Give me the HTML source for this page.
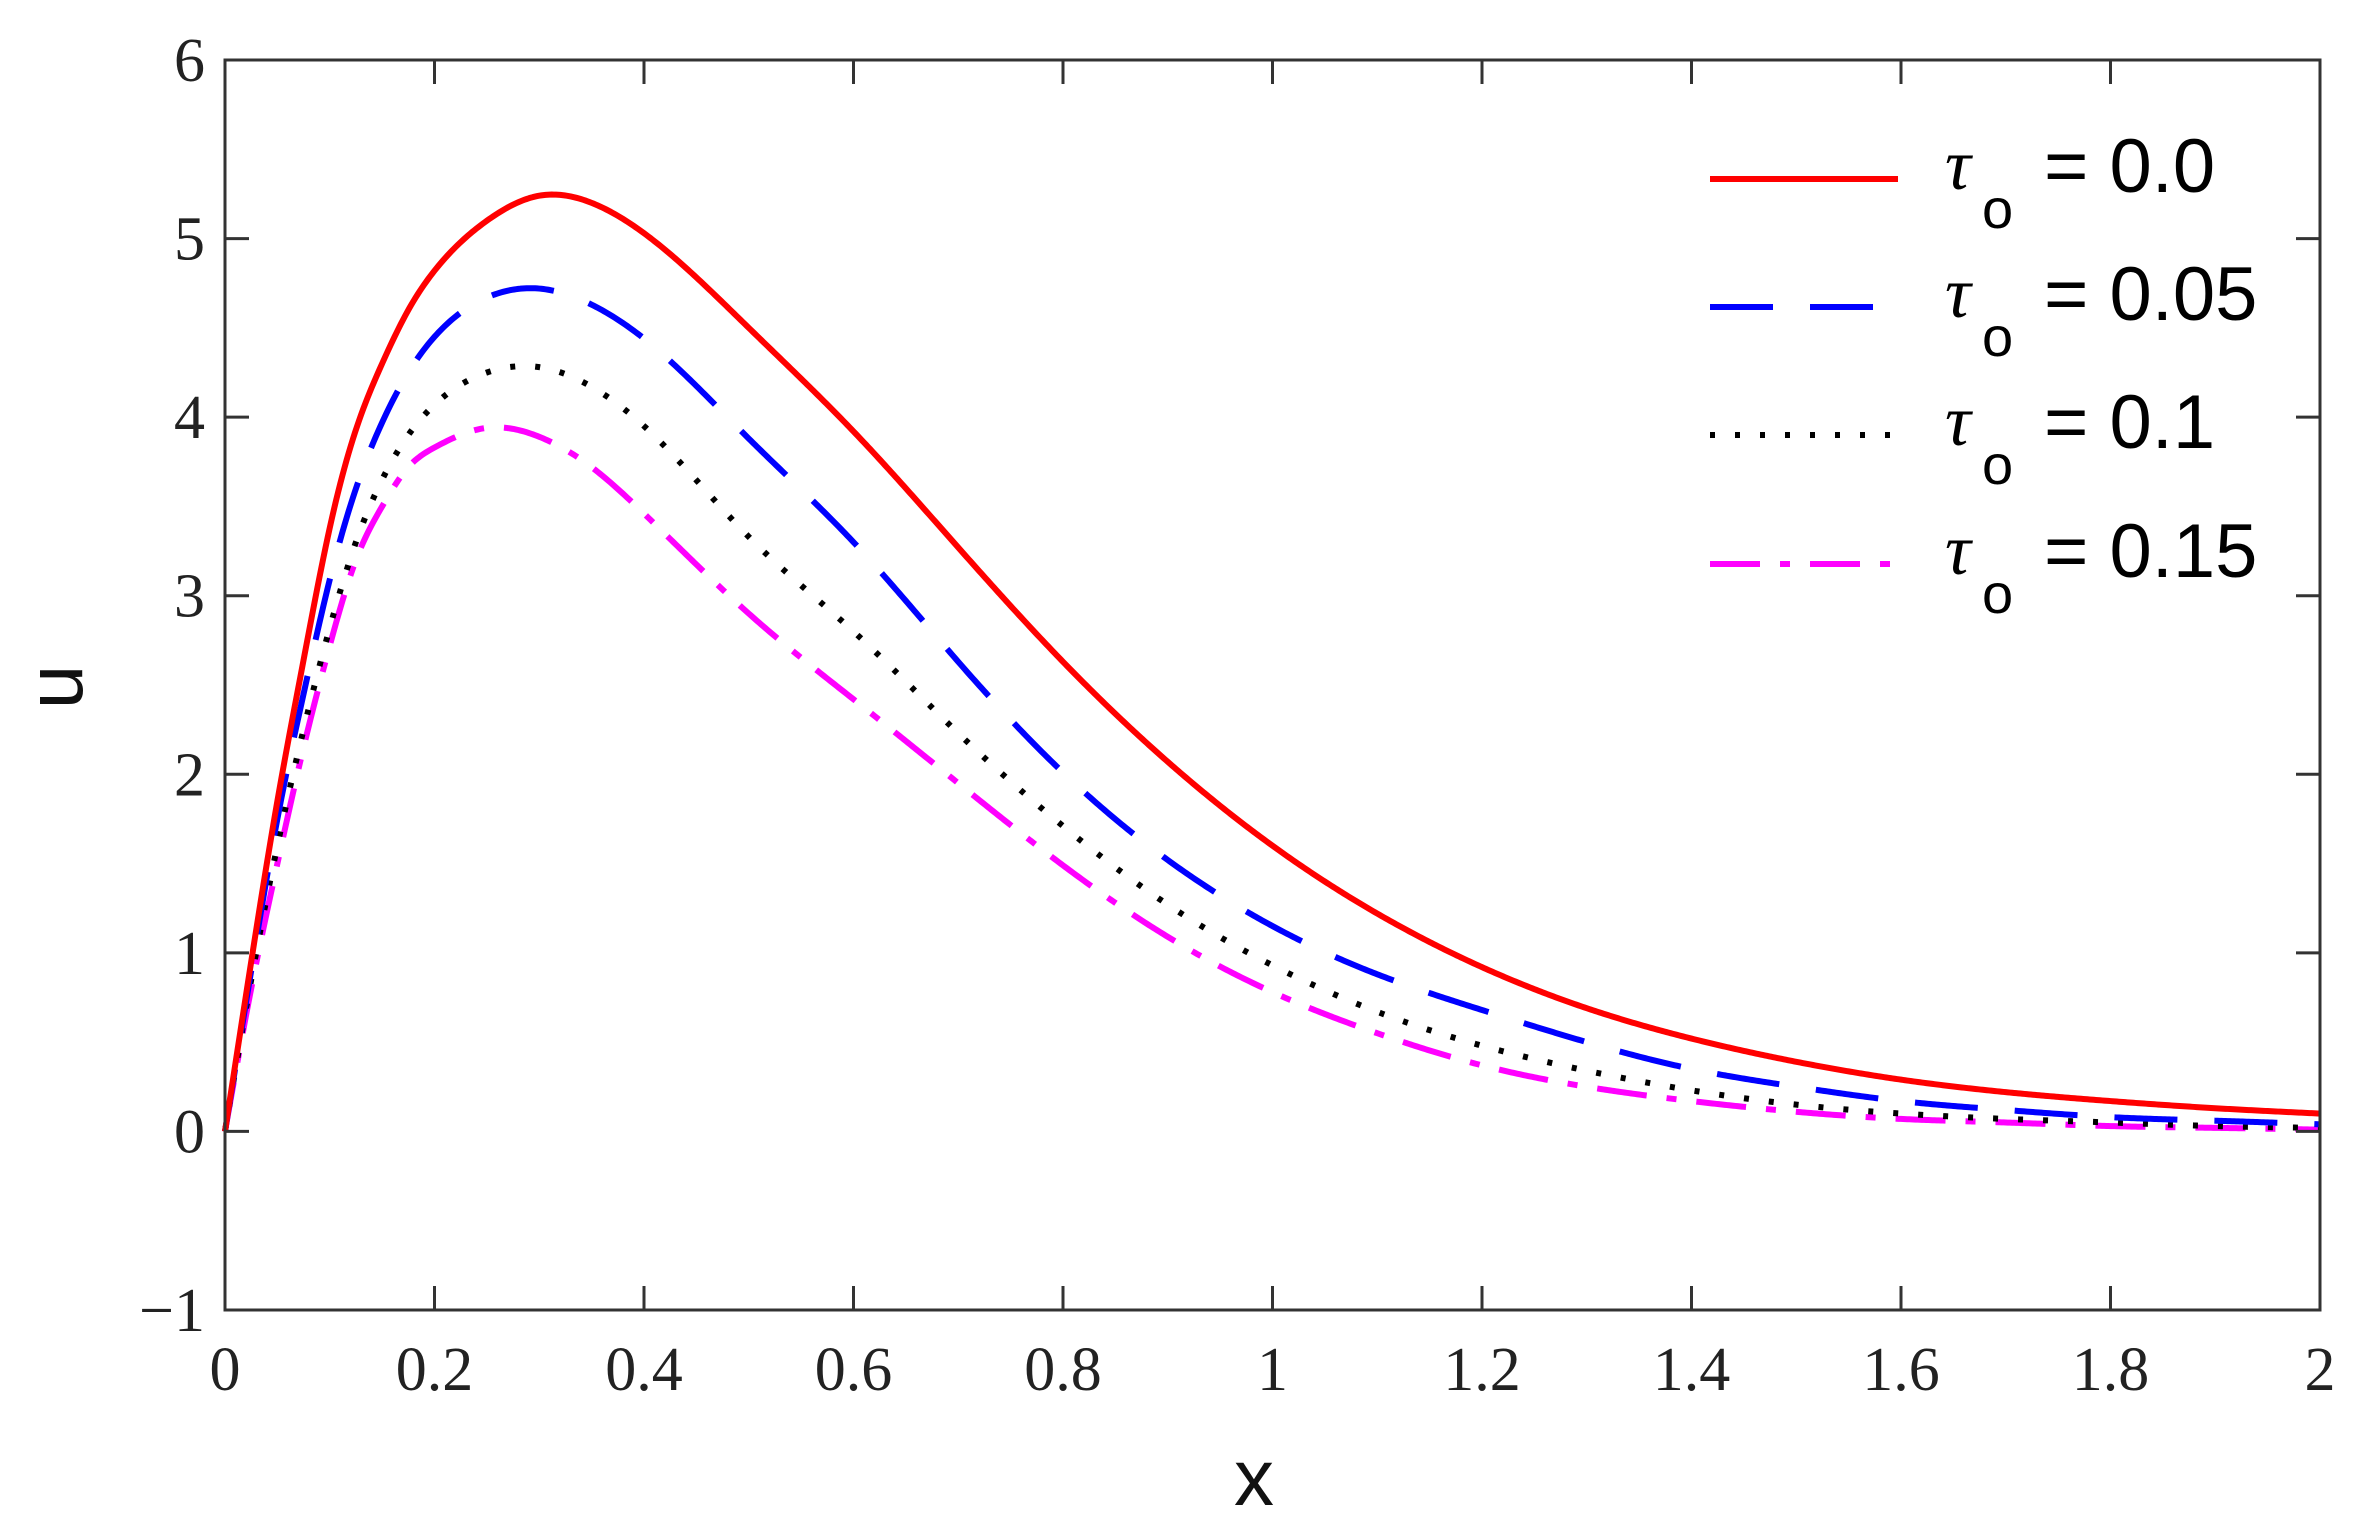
<!DOCTYPE html>
<html><head><meta charset="utf-8"><style>
html,body{margin:0;padding:0;background:#fff;}
svg{display:block}
</style></head><body>
<svg id="s" width="2368" height="1536" viewBox="0 0 2368 1536" xmlns="http://www.w3.org/2000/svg">
<rect width="2368" height="1536" fill="#fff"/>
<g id="curves" fill="none" stroke-linejoin="round"></g>
<g id="axes" stroke="#333" stroke-width="3" fill="none"></g>
<g font-family="'Liberation Serif', serif" font-size="62" fill="#222" id="labels"></g>
<text x="1254" y="1505" font-family="'Liberation Sans', sans-serif" font-size="80" text-anchor="middle" fill="#111">x</text>
<text transform="translate(82,687) rotate(-90)" font-family="'Liberation Sans', sans-serif" font-size="80" text-anchor="middle" fill="#111">u</text>
<g id="legend"></g>
</svg>
<script>
const NS="http://www.w3.org/2000/svg";
const X0=225,X1=2320,Y0=60,Y1=1310;
const sx=x=>X0+(X1-X0)*x/2, sy=u=>Y1-(Y1-Y0)*(u+1)/7;
function el(tag,attrs,parent,text){const e=document.createElementNS(NS,tag);for(const k in attrs)e.setAttribute(k,attrs[k]);if(text!==undefined)e.textContent=text;parent.appendChild(e);return e;}
const ax=document.getElementById('axes'), lab=document.getElementById('labels');
el('rect',{x:X0,y:Y0,width:X1-X0,height:Y1-Y0},ax);
for(let i=0;i<=10;i++){const x=sx(i*0.2);
 el('line',{x1:x,y1:Y1,x2:x,y2:Y1-24},ax);el('line',{x1:x,y1:Y0,x2:x,y2:Y0+24},ax);
 el('text',{x:x,y:1390,'text-anchor':'middle'},lab,i==5?'1':i==10?'2':i==0?'0':(i*0.2).toFixed(1));}
for(let u=-1;u<=6;u++){const y=sy(u);
 el('line',{x1:X0,y1:y,x2:X0+24,y2:y},ax);el('line',{x1:X1,y1:y,x2:X1-24,y2:y},ax);
 el('text',{x:205,y:y+21,'text-anchor':'end'},lab,u<0?'\u22121':String(u));}
const XS=[0,.025,.05,.075,.1,.125,.15,.175,.2,.25,.3,.35,.4,.5,.6,.7,.8,.9,1,1.1,1.2,1.3,1.4,1.5,1.6,1.7,1.8,1.9,2];
const U={
 red:[0,0.95,1.85,2.64,3.38,3.93,4.3,4.6,4.82,5.1,5.24,5.2,5.03,4.5,3.92,3.27,2.63,2.07,1.6,1.22,0.92,0.69,0.52,0.39,0.29,0.22,0.17,0.13,0.1],
 blue:[0,0.9,1.75,2.45,3.09,3.6,3.97,4.25,4.45,4.67,4.72,4.63,4.44,3.88,3.3,2.63,2.01,1.52,1.15,0.88,0.68,0.5,0.35,0.25,0.17,0.12,0.08,0.06,0.04],
 black:[0,0.85,1.6,2.25,2.82,3.3,3.65,3.9,4.07,4.25,4.28,4.17,3.95,3.33,2.8,2.23,1.71,1.27,0.93,0.67,0.48,0.34,0.23,0.15,0.1,0.07,0.05,0.03,0.02],
 mag:[0,0.8,1.5,2.15,2.72,3.2,3.5,3.72,3.83,3.94,3.89,3.72,3.46,2.9,2.42,1.95,1.49,1.09,0.78,0.55,0.37,0.25,0.17,0.11,0.07,0.05,0.03,0.02,0.01]};
function spline(xs,ys){const n=xs.length,h=[],a=[],b=[],c=[],r=[],M=new Array(n).fill(0);
 for(let i=0;i<n-1;i++)h[i]=xs[i+1]-xs[i];
 const A=[],B=[],C=[],D=[];
 for(let i=1;i<n-1;i++){A.push(h[i-1]);B.push(2*(h[i-1]+h[i]));C.push(h[i]);D.push(6*((ys[i+1]-ys[i])/h[i]-(ys[i]-ys[i-1])/h[i-1]));}
 const m=A.length;for(let i=1;i<m;i++){const w=A[i]/B[i-1];B[i]-=w*C[i-1];D[i]-=w*D[i-1];}
 const s=new Array(m);s[m-1]=D[m-1]/B[m-1];for(let i=m-2;i>=0;i--)s[i]=(D[i]-C[i]*s[i+1])/B[i];
 for(let i=0;i<m;i++)M[i+1]=s[i];
 return x=>{let i=0;while(i<n-2&&x>xs[i+1])i++;const t=xs[i+1]-x,u=x-xs[i],hh=h[i];
  return M[i]*t*t*t/(6*hh)+M[i+1]*u*u*u/(6*hh)+(ys[i]/hh-M[i]*hh/6)*t+(ys[i+1]/hh-M[i+1]*hh/6)*u;};}
const data=[
 {c:'#ff0000',d:'',u:U.red},
 {c:'#0000ff',d:'63 37',u:U.blue},
 {c:'#000000',d:'5 20',u:U.black},
 {c:'#ff00ff',d:'50 20 10 20',u:U.mag}
];
const cg=document.getElementById('curves');
data.slice().reverse().forEach(s=>{const f=spline(XS,s.u);let d='';
 for(let k=0;k<=1000;k++){const x=k*0.002;d+=(k?'L':'M')+sx(x).toFixed(2)+','+sy(f(x)).toFixed(2);}
 el('path',{d:d,stroke:s.c,'stroke-width':6,'stroke-dasharray':s.d},cg);});
const lg=document.getElementById('legend');const ly=[179,307,435,564],vals=['0.0','0.05','0.1','0.15'];
data.forEach((s,i)=>{el('line',{x1:1710,y1:ly[i],x2:1898,y2:ly[i],stroke:s.c,'stroke-width':6,'stroke-dasharray':s.d},lg);
 el('text',{x:1945,y:ly[i]+10,'font-family':"'Liberation Serif', serif",'font-style':'italic','font-size':72,fill:'#000'},lg,'\u03c4');
 el('text',{x:1982,y:ly[i]+49,'font-family':"'Liberation Sans', sans-serif",'font-size':56,fill:'#000'},lg,'o');
 el('text',{x:2044,y:ly[i]+13,'font-family':"'Liberation Sans', sans-serif",'font-size':76,fill:'#000'},lg,'= '+vals[i]);});
</script>
</body></html>
